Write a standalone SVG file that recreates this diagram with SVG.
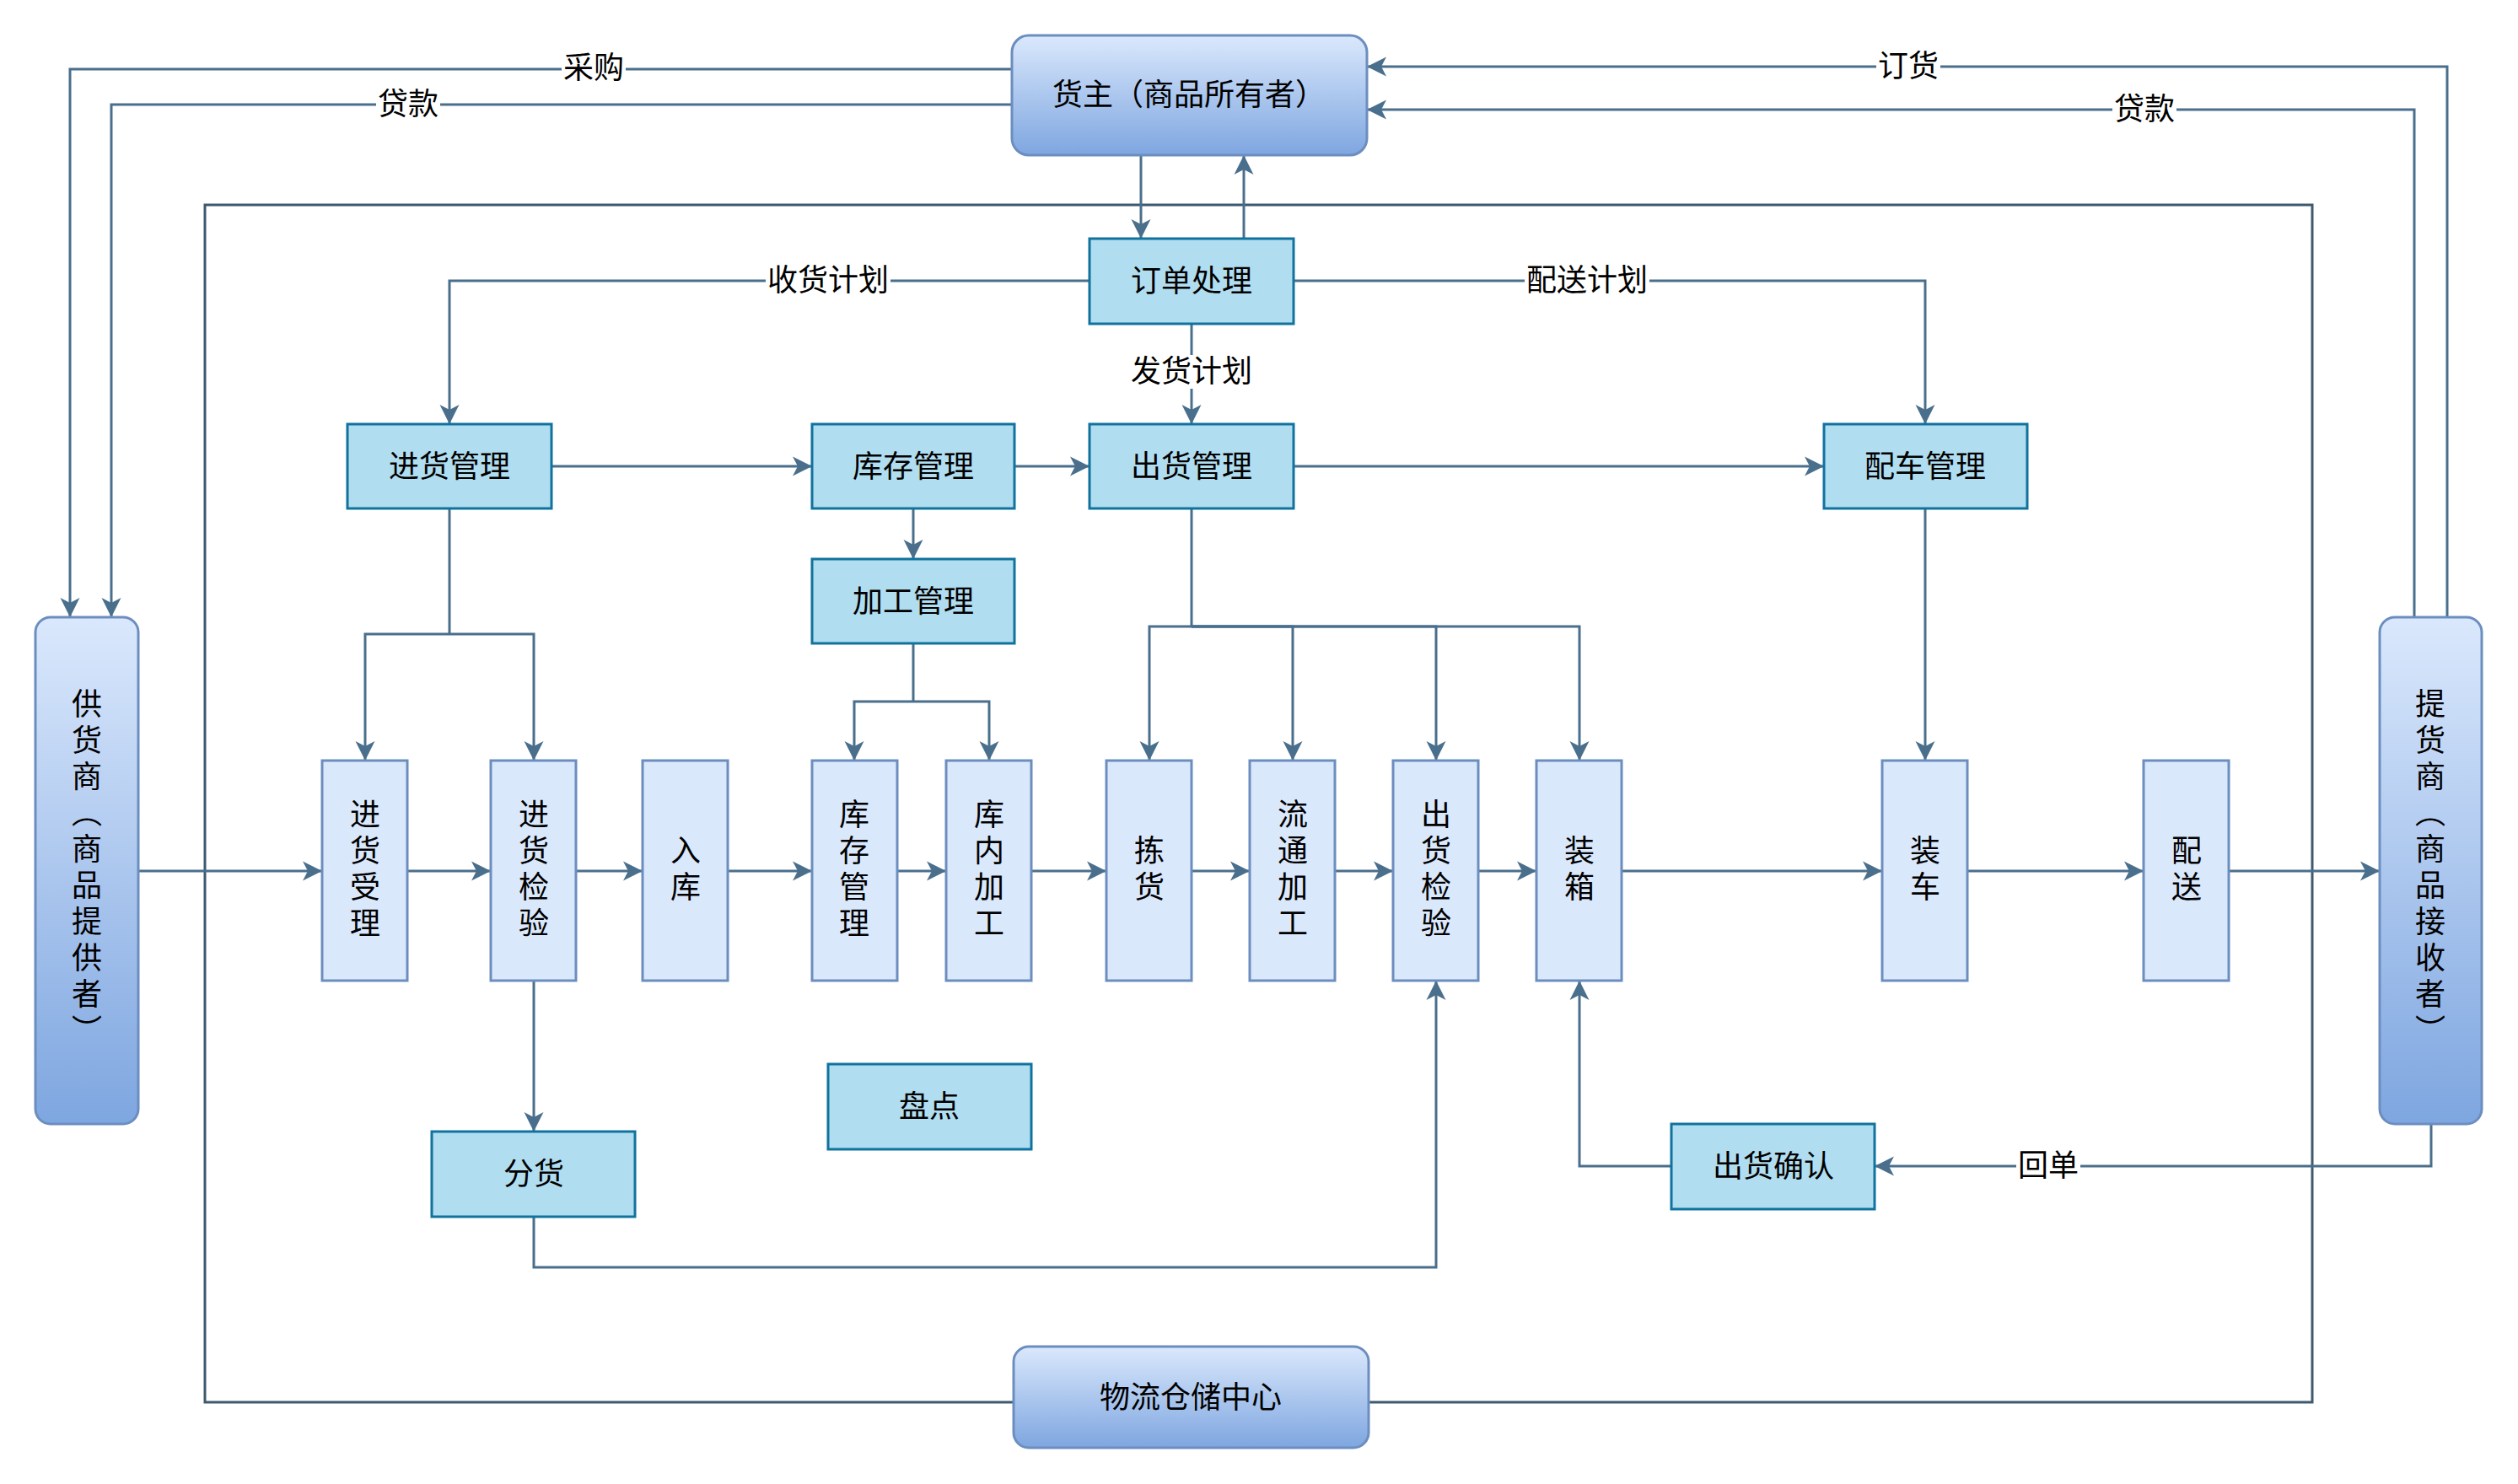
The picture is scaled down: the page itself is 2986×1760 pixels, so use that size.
<svg xmlns="http://www.w3.org/2000/svg" width="2986" height="1760" viewBox="0 0 2986 1760">
<defs>
<linearGradient id="grad" x1="0" y1="0" x2="0" y2="1">
<stop offset="0" stop-color="#dae8fc"/>
<stop offset="1" stop-color="#7ea6e0"/>
</linearGradient>
<marker id="arr" markerUnits="userSpaceOnUse" markerWidth="24" markerHeight="24" viewBox="0 0 24 24" refX="23" refY="12" orient="auto">
<path d="M0,0.5 L23,12 L0,23.5 L6,12 Z" fill="#4a6f8c"/>
</marker>
<style>
.mgmt{fill:#b1ddf0;stroke:#10739e;stroke-width:3}
.proc{fill:#dae8fc;stroke:#6c8ebf;stroke-width:3}
.ext{fill:url(#grad);stroke:#6c8ebf;stroke-width:3}
.t{font-family:"Noto Sans CJK SC","Noto Sans CJK JP",sans-serif;font-size:36px;fill:#000;text-anchor:middle;dominant-baseline:central}
.v{writing-mode:vertical-rl;letter-spacing:7px}
.c{fill:none;stroke:#4a6f8c;stroke-width:3;marker-end:url(#arr)}
.cn{fill:none;stroke:#4a6f8c;stroke-width:3}
.bg{fill:#fff}
.frame{fill:none;stroke:#3d5a6f;stroke-width:3}
</style>
</defs>
<rect width="2986" height="1760" fill="#fff"/>

<g id="boundary">
<rect class="frame" x="243" y="243" width="2499" height="1420"/>
</g>

<g id="connectors">
<path class="c" d="M1200,82 H83 V732"/>
<path class="c" d="M1200,124 H132 V732"/>
<path class="c" d="M2902,732 V79 H1621"/>
<path class="c" d="M2863,732 V130 H1621"/>
<path class="c" d="M1353,184 V283"/>
<path class="c" d="M1475,283 V184"/>
<path class="c" d="M1292,333 H533 V503"/>
<path class="c" d="M1534,333 H2283 V503"/>
<path class="c" d="M1413,384 V503"/>
<path class="c" d="M654,553 H963"/>
<path class="c" d="M1203,553 H1292"/>
<path class="c" d="M1534,553 H2163"/>
<path class="c" d="M1083,603 V663"/>
<path class="cn" d="M533,603 V752"/>
<path class="c" d="M533,752 H433 V902"/>
<path class="c" d="M533,752 H633 V902"/>
<path class="cn" d="M1083,763 V832"/>
<path class="c" d="M1083,832 H1013 V902"/>
<path class="c" d="M1083,832 H1173 V902"/>
<path class="cn" d="M1413,603 V743"/>
<path class="c" d="M1413,743 H1363 V902"/>
<path class="c" d="M1413,743 H1533 V902"/>
<path class="c" d="M1413,743 H1703 V902"/>
<path class="c" d="M1413,743 H1873 V902"/>
<path class="c" d="M2283,603 V902"/>
<path class="c" d="M164,1033 H382"/>
<path class="c" d="M484,1033 H582"/>
<path class="c" d="M684,1033 H762"/>
<path class="c" d="M864,1033 H963"/>
<path class="c" d="M1064,1033 H1122"/>
<path class="c" d="M1224,1033 H1312"/>
<path class="c" d="M1414,1033 H1482"/>
<path class="c" d="M1584,1033 H1652"/>
<path class="c" d="M1754,1033 H1822"/>
<path class="c" d="M1924,1033 H2232"/>
<path class="c" d="M2334,1033 H2542"/>
<path class="c" d="M2644,1033 H2822"/>
<path class="c" d="M633,1163 V1342"/>
<path class="c" d="M633,1443 V1503 H1703 V1163"/>
<path class="c" d="M2883,1333 V1383 H2223"/>
<path class="c" d="M1982,1383 H1873 V1163"/>
<rect class="bg" x="666" y="62" width="76" height="40"/>
<text class="t" x="704" y="77">采购</text>
<rect class="bg" x="446" y="104" width="76" height="40"/>
<text class="t" x="484" y="120">贷款</text>
<rect class="bg" x="2225" y="59" width="76" height="40"/>
<text class="t" x="2263" y="75">订货</text>
<rect class="bg" x="2505" y="110" width="76" height="40"/>
<text class="t" x="2543" y="126">贷款</text>
<rect class="bg" x="908" y="313" width="148" height="40"/>
<text class="t" x="982" y="329">收货计划</text>
<rect class="bg" x="1808" y="313" width="148" height="40"/>
<text class="t" x="1882" y="329">配送计划</text>
<rect class="bg" x="1339" y="421" width="148" height="40"/>
<text class="t" x="1413" y="437">发货计划</text>
<rect class="bg" x="2391" y="1363" width="76" height="40"/>
<text class="t" x="2429" y="1379">回单</text>
</g>

<g id="huozhu"><rect class="ext" x="1200" y="42" width="421" height="142" rx="20"/><text class="t" x="1410" y="109">货主（商品所有者）</text></g>
<g id="gonghuoshang"><rect class="ext" x="42" y="732" width="122" height="601" rx="18"/><text class="t v" x="103" y="1031">供货商（商品提供者）</text></g>
<g id="tihuoshang"><rect class="ext" x="2822" y="732" width="121" height="601" rx="18"/><text class="t v" x="2882" y="1031">提货商（商品接收者）</text></g>
<g id="wuliu"><rect class="ext" x="1202" y="1597" width="421" height="120" rx="18"/><text class="t" x="1412" y="1654">物流仓储中心</text></g>

<g id="dingdanchuli"><rect class="mgmt" x="1292" y="283" width="242" height="101"/><text class="t" x="1413" y="330">订单处理</text></g>
<g id="jinhuoguanli"><rect class="mgmt" x="412" y="503" width="242" height="100"/><text class="t" x="533" y="550">进货管理</text></g>
<g id="kucunguanli"><rect class="mgmt" x="963" y="503" width="240" height="100"/><text class="t" x="1083" y="550">库存管理</text></g>
<g id="chuhuoguanli"><rect class="mgmt" x="1292" y="503" width="242" height="100"/><text class="t" x="1413" y="550">出货管理</text></g>
<g id="peicheguanli"><rect class="mgmt" x="2163" y="503" width="241" height="100"/><text class="t" x="2283" y="550">配车管理</text></g>
<g id="jiagongguanli"><rect class="mgmt" x="963" y="663" width="240" height="100"/><text class="t" x="1083" y="710">加工管理</text></g>
<g id="pandian"><rect class="mgmt" x="982" y="1262" width="241" height="101"/><text class="t" x="1102" y="1309">盘点</text></g>
<g id="fenhuo"><rect class="mgmt" x="512" y="1342" width="241" height="101"/><text class="t" x="633" y="1389">分货</text></g>
<g id="chuhuoqueren"><rect class="mgmt" x="1982" y="1333" width="241" height="101"/><text class="t" x="2103" y="1380">出货确认</text></g>

<g id="jinhuoshouli"><rect class="proc" x="382" y="902" width="101" height="261"/><text class="t v" x="433" y="1033">进货受理</text></g>
<g id="jinhuojianyan"><rect class="proc" x="582" y="902" width="101" height="261"/><text class="t v" x="633" y="1033">进货检验</text></g>
<g id="ruku"><rect class="proc" x="762" y="902" width="101" height="261"/><text class="t v" x="813" y="1033">入库</text></g>
<g id="kucunguanli2"><rect class="proc" x="963" y="902" width="101" height="261"/><text class="t v" x="1013" y="1033">库存管理</text></g>
<g id="kuneijiagong"><rect class="proc" x="1122" y="902" width="101" height="261"/><text class="t v" x="1173" y="1033">库内加工</text></g>
<g id="jianhuo"><rect class="proc" x="1312" y="902" width="101" height="261"/><text class="t v" x="1363" y="1033">拣货</text></g>
<g id="liutongjiagong"><rect class="proc" x="1482" y="902" width="101" height="261"/><text class="t v" x="1533" y="1033">流通加工</text></g>
<g id="chuhuojianyan"><rect class="proc" x="1652" y="902" width="101" height="261"/><text class="t v" x="1703" y="1033">出货检验</text></g>
<g id="zhuangxiang"><rect class="proc" x="1822" y="902" width="101" height="261"/><text class="t v" x="1873" y="1033">装箱</text></g>
<g id="zhuangche"><rect class="proc" x="2232" y="902" width="101" height="261"/><text class="t v" x="2283" y="1033">装车</text></g>
<g id="peisong"><rect class="proc" x="2542" y="902" width="101" height="261"/><text class="t v" x="2593" y="1033">配送</text></g>
</svg>
